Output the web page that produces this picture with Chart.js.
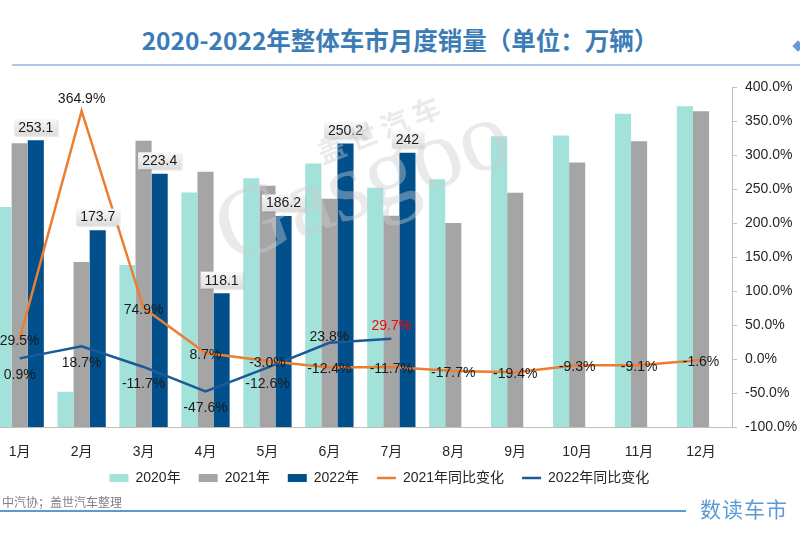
<!DOCTYPE html>
<html>
<head>
<meta charset="utf-8">
<script src="https://cdn.jsdelivr.net/npm/chart.js@4.4.0/dist/chart.umd.min.js"></script>
<style>
html,body{margin:0;padding:0;width:800px;height:533px;overflow:hidden;background:#fff;}
body{position:relative;font-family:"Liberation Sans","Noto Sans CJK SC",sans-serif;}
#wrap{position:absolute;left:-20px;top:0;width:820px;height:533px;}
#title{position:absolute;left:0;top:22px;width:800px;text-align:center;font-family:"Noto Sans CJK SC",sans-serif;font-weight:700;font-size:24.5px;line-height:36px;color:#3b7cb6;}
#tline{position:absolute;left:12px;top:64px;width:788px;height:2px;background:#a9c8e6;}
#diamond{position:absolute;left:794px;top:42px;width:8px;height:8px;background:#6a9bd0;transform:rotate(45deg);}
#src{position:absolute;left:2px;top:494px;font-family:"Noto Sans CJK SC",sans-serif;font-size:12px;line-height:16px;color:#808080;}
#fline{position:absolute;left:0;top:510px;width:686px;height:2px;background:#5b9bd5;}
#logo{position:absolute;left:700px;top:494px;font-family:"Noto Sans CJK SC",sans-serif;font-size:21px;line-height:28px;color:#5b9bd5;letter-spacing:1px;}
.wm{position:absolute;pointer-events:none;color:rgba(205,205,205,0.42);transform-origin:left center;white-space:nowrap;}
#wm1{left:318px;top:133px;font-family:"Noto Sans CJK SC",sans-serif;font-weight:700;font-size:28px;line-height:40px;letter-spacing:6px;transform:rotate(-22deg);}
#wm2{left:218px;top:178px;font-family:"Liberation Serif",serif;font-size:100px;line-height:110px;transform:rotate(-20deg);}
</style>
</head>
<body>
<div id="title">2020-2022年整体车市月度销量（单位：万辆）</div>
<div id="tline"></div>
<div id="diamond"></div>
<div id="wrap"><canvas id="c"></canvas></div>
<div class="wm" id="wm1">盖世汽车</div>
<div class="wm" id="wm2">Gasgoo</div>
<div id="src">中汽协；盖世汽车整理</div>
<div id="fline"></div>
<div id="logo">数读车市</div>
<script>
const months = ['1月','2月','3月','4月','5月','6月','7月','8月','9月','10月','11月','12月'];
const sales2020 = [194.1, 31.0, 143.0, 207.0, 219.4, 232.5, 211.2, 218.6, 256.5, 257.3, 276.5, 283.1];
const sales2021 = [250.3, 145.5, 252.6, 225.2, 212.8, 201.5, 186.4, 179.9, 206.7, 233.3, 252.2, 278.6];
const sales2022 = [253.1, 173.7, 223.4, 118.1, 186.2, 250.2, 242, null, null, null, null, null];
const yoy2021 = [29.5, 364.9, 74.9, 8.7, -3.0, -12.4, -11.7, -17.7, -19.4, -9.3, -9.1, -1.6];
const yoy2022 = [0.9, 18.7, -11.7, -47.6, -12.6, 23.8, 29.7, null, null, null, null, null];
const pctTicks = [-100, -50, 0, 50, 100, 150, 200, 250, 300, 350, 400];

const FONT = '"Liberation Sans", Arial, "Noto Sans CJK SC", sans-serif';
const C2020 = '#a3e2da', C2021 = '#a5a5a5', C2022 = '#01508c', CORG = '#ed7d31', CBLN = '#1a5a97';

const labelPlugin = {
  id: 'valueLabels',
  afterDatasetsDraw(chart) {
    const ctx = chart.ctx;
    ctx.save();
    ctx.font = '14px ' + FONT;
    ctx.textAlign = 'center';
    ctx.textBaseline = 'middle';
    chart.getDatasetMeta(2).data.forEach((el, i) => {
      const v = sales2022[i];
      if (v == null) return;
      const txt = String(v);
      const w = ctx.measureText(txt).width + 8, h = 17;
      const cx = el.x, cy = el.y - 13;
      ctx.fillStyle = 'rgba(0,0,0,0.08)';
      ctx.fillRect(cx - w / 2 + 1.5, cy - h / 2 + 1.5, w, h);
      const g = ctx.createLinearGradient(0, cy - h / 2, 0, cy + h / 2);
      g.addColorStop(0, '#f8f8f8');
      g.addColorStop(1, '#dcdcdc');
      ctx.fillStyle = g;
      ctx.fillRect(cx - w / 2, cy - h / 2, w, h);
      ctx.fillStyle = '#1a1a1a';
      ctx.fillText(txt, cx, cy + 0.5);
    });
    chart.getDatasetMeta(3).data.forEach((el, i) => {
      const v = yoy2021[i];
      if (v == null) return;
      const dy = (i === 1) ? -12 : 2;
      ctx.fillStyle = '#1a1a1a';
      ctx.fillText(v.toFixed(1) + '%', el.x, el.y + dy);
    });
    chart.getDatasetMeta(4).data.forEach((el, i) => {
      const v = yoy2022[i];
      if (v == null) return;
      let dy = 17, col = '#1a1a1a';
      if (i === 5) dy = -6;
      if (i === 6) { dy = -13; col = '#ff0000'; }
      ctx.fillStyle = col;
      ctx.fillText(v.toFixed(1) + '%', el.x, el.y + dy);
    });
    ctx.restore();
  }
};

const legendShift = {
  id: 'legendShift',
  afterLayout(chart) {
    const l = chart.legend;
    if (l) { l.left -= 15; l.right -= 15; l.top -= 10; l.bottom -= 10; }
  }
};

new Chart(document.getElementById('c'), {
  type: 'bar',
  data: {
    labels: months,
    datasets: [
      { label: '2020年', data: sales2020, backgroundColor: C2020, yAxisID: 'y', order: 2, pointStyle: 'rect' },
      { label: '2021年', data: sales2021, backgroundColor: C2021, yAxisID: 'y', order: 2, pointStyle: 'rect' },
      { label: '2022年', data: sales2022, backgroundColor: C2022, yAxisID: 'y', order: 2, pointStyle: 'rect' },
      { type: 'line', label: '2021年同比变化', data: yoy2021, borderColor: CORG, backgroundColor: CORG, borderWidth: 2.5, pointRadius: 0, pointStyle: 'line', yAxisID: 'y1', order: 1, tension: 0 },
      { type: 'line', label: '2022年同比变化', data: yoy2022, borderColor: CBLN, backgroundColor: CBLN, borderWidth: 2.5, pointRadius: 0, pointStyle: 'line', yAxisID: 'y1', order: 1, tension: 0 }
    ]
  },
  options: {
    responsive: true,
    maintainAspectRatio: false,
    animation: false,
    devicePixelRatio: 1,
    datasets: { bar: { categoryPercentage: 0.78, barPercentage: 1.0 } },
    layout: { padding: { left: 8.7, right: 0, top: 87, bottom: 28 } },
    plugins: {
      tooltip: { enabled: false },
      title: { display: false },
      legend: {
        position: 'bottom',
        labels: {
          usePointStyle: true,
          pointStyleWidth: 19,
          boxHeight: 8,
          padding: 18,
          color: '#262626',
          font: { size: 14, family: FONT },
          sort: (a, b) => a.datasetIndex - b.datasetIndex
        }
      }
    },
    scales: {
      x: {
        grid: { display: false, drawTicks: false },
        border: { display: true, color: '#bfbfbf', width: 1 },
        ticks: { color: '#262626', font: { size: 14, family: FONT }, padding: 17, maxRotation: 0, autoSkip: false },
        afterFit(s) { s.height = 36; }
      },
      y: { display: false, min: 0, max: 300 },
      y1: {
        position: 'right',
        min: -100, max: 400,
        afterBuildTicks(s) { s.ticks = pctTicks.map(v => ({ value: v })); },
        ticks: { color: '#262626', font: { size: 14, family: FONT }, padding: 8, callback: v => Number(v).toFixed(1) + '%' },
        grid: { display: true, drawOnChartArea: false, drawTicks: true, tickLength: 5, color: '#bfbfbf' },
        border: { display: true, color: '#bfbfbf', width: 1 },
        afterFit(s) { s.width = 68; }
      }
    }
  },
  plugins: [labelPlugin, legendShift]
});
</script>
</body>
</html>
